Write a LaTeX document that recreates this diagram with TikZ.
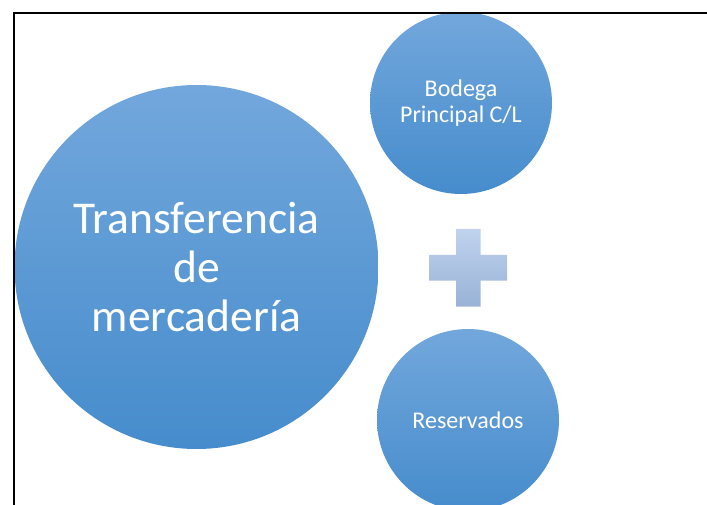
\documentclass[tikz,border=0pt]{standalone}
\usepackage{fontspec}
\setmainfont{Carlito}
\definecolor{ctop}{RGB}{114,167,220}
\definecolor{cbot}{RGB}{70,140,204}
\definecolor{ptop}{RGB}{192,211,238}
\definecolor{pbot}{RGB}{152,178,214}
\begin{document}
\begin{tikzpicture}[x=1pt,y=-1pt,
  bubble/.style={circle, inner sep=0pt, draw=none, top color=ctop, bottom color=cbot, text=white, align=center},
  bigtext/.style={font=\fontsize{45.5}{49}\selectfont},
  smalltext/.style={font=\fontsize{24}{26.5}\selectfont},
  plusshape/.style={top color=ptop, bottom color=pbot, draw=none},
  frameline/.style={line width=2pt, draw=black}
]
\useasboundingbox (0,0) rectangle (707,505);
\node[bubble, bigtext, minimum size=364pt] (big) at (196.5,267) {Transferencia\\de\\mercadería};
\node[bubble, smalltext, minimum size=182pt] (topc) at (461,103) {Bodega\\Principal C/L};
\node[bubble, smalltext, minimum size=182pt] (botc) at (468,420) {Reservados};
\path[plusshape] (456,229) -- (480.5,229) -- (480.5,255) -- (507,255) -- (507,280.5) -- (480.5,280.5) -- (480.5,306.5) -- (456,306.5) -- (456,280.5) -- (429,280.5) -- (429,255) -- (456,255) -- cycle;
\draw[frameline] (14,506) -- (14,13) -- (708,13);
\end{tikzpicture}
\end{document}
